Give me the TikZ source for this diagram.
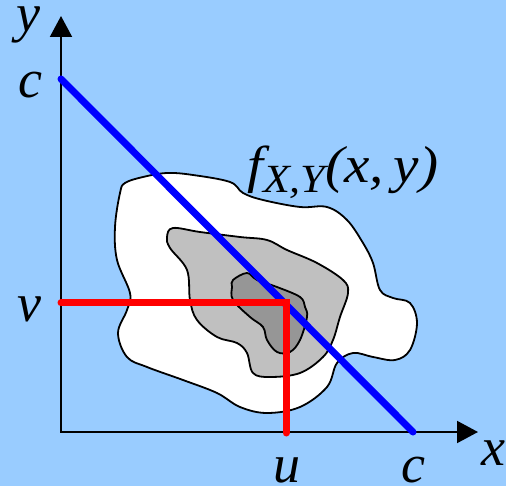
\documentclass[tikz,border=0pt]{standalone}
\usepackage{fontspec}
\setmainfont{Liberation Serif}
\usetikzlibrary{arrows.meta,positioning}
\definecolor{sky}{HTML}{99CCFF}
\definecolor{midgray}{HTML}{C0C0C0}
\definecolor{coregray}{HTML}{969696}

\begin{document}
\begin{tikzpicture}[
  x=1pt, y=-1pt,
  every node/.style={inner sep=0pt, font=\fontsize{54}{60}\selectfont\itshape},
  axis/.style={line width=2pt, {Triangle[length=21pt,width=22pt]}-{Triangle[length=21pt,width=22pt]}},
  contour/.style={draw=black, line width=1.8pt},
  sumline/.style={draw=blue, line width=7pt, line cap=round},
  cut/.style={draw=red, line width=7pt, line cap=round, line join=miter}
]
\fill[sky] (0,0) rectangle (506,486);
\useasboundingbox (0,0) rectangle (506,486);

% density contours
\filldraw[contour, fill=white] plot[smooth cycle, tension=0.6] coordinates {
  (120,193) (125,183) (143,177) (167,173) (193,175) (230,182) (243,193)
  (263,200) (300,207) (327,207) (347,220) (363,243) (373,263) (380,290)
  (393,298) (410,303) (417,323) (410,350) (395,360) (373,357) (353,353)
  (337,363) (327,387) (300,407) (267,413) (240,407) (217,393) (183,380)
  (147,367) (127,357) (118,333) (127,310) (130,293) (117,260) (115,227)};
\filldraw[contour, fill=midgray] plot[smooth cycle, tension=0.6] coordinates {
  (170,248) (167,237) (173,228) (200,232) (240,237) (267,240) (287,250)
  (317,263) (343,280) (348,293) (340,317) (333,340) (323,357) (300,373)
  (270,377) (253,373) (247,353) (237,343) (217,337) (197,320) (190,300)
  (187,270)};
\filldraw[contour, fill=coregray] plot[smooth cycle, tension=0.6] coordinates {
  (233,280) (247,273) (257,280) (277,287) (300,297) (305,307) (307,317)
  (300,340) (290,352) (277,352) (267,340) (263,327) (250,317) (233,300)
  (232,287)};

% axes
\coordinate (origin) at (61,432);
\coordinate (ytip) at (61,16);
\coordinate (xtip) at (478,432);
\draw[axis] (ytip) -- (origin) -- (xtip);

\coordinate (cy) at (61,79);
\coordinate (cx) at (413,432);
\coordinate (vy) at (61,303);
\coordinate (uv) at (286,303);
\coordinate (ux) at (286,433);
\draw[sumline] (cy) -- (cx);
\draw[cut] (vy) -- (uv) -- (ux);

\node[anchor=base, text height=24pt] (ylabel) at (28,32) {y};
\node[anchor=base] (xlabel) at (493,465) {x};
\node[anchor=base] (cylabel) at (30,98) {c};
\node[anchor=base] (vlabel) at (29,322) {v};
\node[anchor=base, text depth=0pt] (ulabel) at (287,482) {u};
\node[anchor=base, text depth=0pt] (cxlabel) at (413,482) {c};
\node[anchor=base west, font=\fontsize{52}{56}\selectfont\itshape] (density) at (247,183)
  {\scalebox{1.1}[1]{f\raisebox{-10pt}{\fontsize{40}{42}\selectfont X,Y}(x,\,y)}};
\end{tikzpicture}
\end{document}
